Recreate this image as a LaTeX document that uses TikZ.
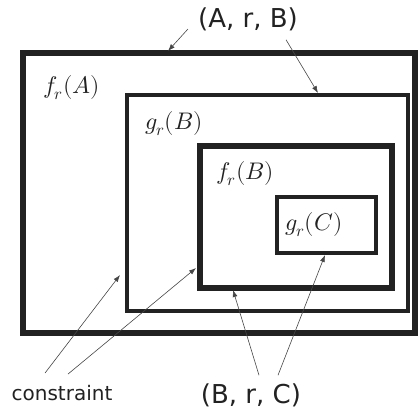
\documentclass[tikz,border=0pt]{standalone}
\usepackage{fontspec}
\usepackage{unicode-math}
\setmainfont{DejaVu Sans}
\setmathfont{Latin Modern Math}
\usetikzlibrary{arrows.meta, positioning}
\definecolor{boxgray}{RGB}{34,34,34}
\definecolor{pointergray}{RGB}{70,70,70}

\begin{document}
\begin{tikzpicture}[x=1pt, y=-1pt,
    thickbox/.style={draw=boxgray, line width=6pt, inner sep=0pt},
    thinbox/.style={draw=boxgray, line width=3.2pt, inner sep=0pt},
    mathlabel/.style={font=\fontsize{24}{27}\selectfont, text=boxgray, inner sep=1pt, anchor=west},
    tuplelabel/.style={font=\fontsize{26}{29}\selectfont, text=boxgray, inner sep=1pt},
    pointer/.style={-{Latex[length=7pt,width=5pt]}, draw=pointergray, line width=0.6pt}]
    \useasboundingbox (0,0) rectangle (418,412);

    % nested regions
    \node[thickbox, minimum width=392pt, minimum height=280pt] (fA) at (219,193) {};
    \node[thinbox, minimum width=281pt, minimum height=216pt] (gB) at (267.5,203) {};
    \node[thickbox, minimum width=192pt, minimum height=142pt] (fB) at (296,217) {};
    \node[thinbox, minimum width=99pt, minimum height=56pt] (gC) at (326.5,225) {};

    % region names
    \node[mathlabel] (fAname) at (42,88) {$f_r(A)$};
    \node[mathlabel] (gBname) at (144,124) {$g_r(B)$};
    \node[mathlabel] (fBname) at (215,174) {$f_r(B)$};
    \node[mathlabel] (gCname) at (284,225) {$g_r(C)$};

    % tuples
    \node[tuplelabel] (ArB) at (248,19) {(A, r, B)};
    \node[tuplelabel] (BrC) at (251,395) {(B, r, C)};
    \node[font=\fontsize{20}{23}\selectfont, text=boxgray, inner sep=1pt] (cons) at (62,393) {constraint};

    % arrow ends
    \coordinate (fAtop) at (168,51);
    \coordinate (gBtop) at (318,93);
    \coordinate (gBleft) at (120,275);
    \coordinate (fBleft) at (196,268);
    \coordinate (fBbottom) at (233,290);
    \coordinate (gCbottom) at (325,255);

    \draw[pointer] ([shift={(-9,10)}]ArB.west) -- (fAtop);
    \draw[pointer] ([shift={(-13,8)}]ArB.south east) -- (gBtop);
    \draw[pointer] ([shift={(-17,-11)}]cons.north) -- (gBleft);
    \draw[pointer] ([shift={(6,-10)}]cons.north) -- (fBleft);
    \draw[pointer] ([shift={(8,-7)}]BrC.north) -- (fBbottom);
    \draw[pointer] ([shift={(27,-7)}]BrC.north) -- (gCbottom);
\end{tikzpicture}
\end{document}
